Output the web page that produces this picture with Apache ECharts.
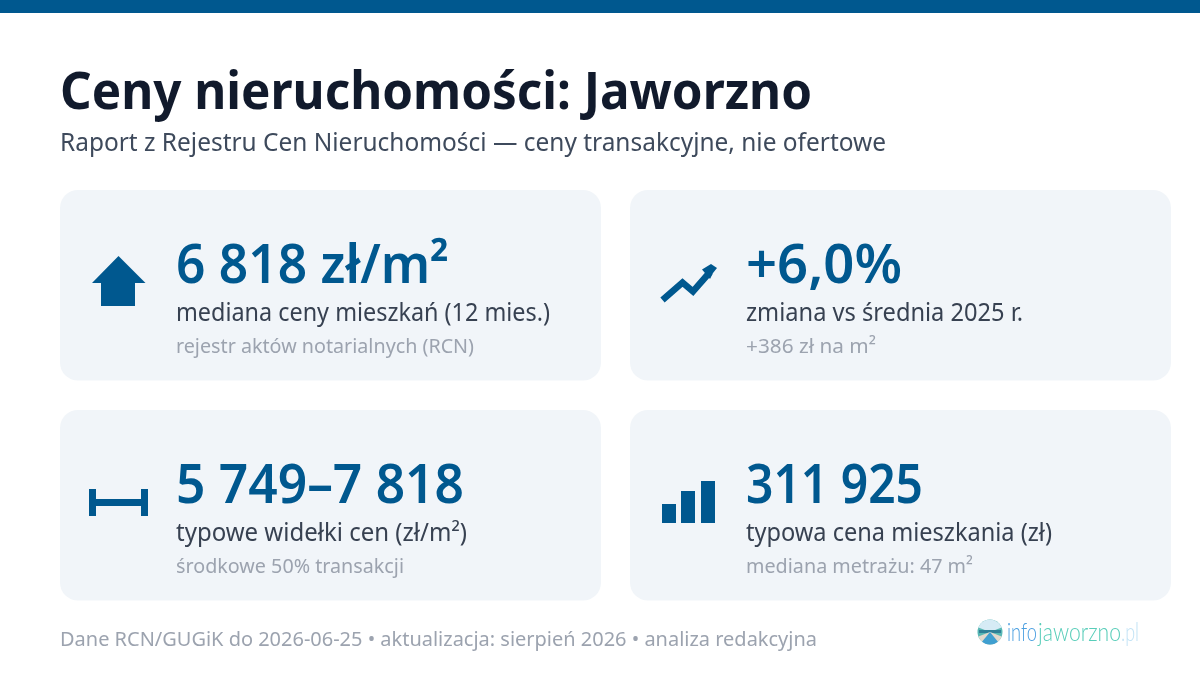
<html>
  <head>
    <meta http-equiv="Content-Type" content="text/html; charset=utf-8" />
    <script src="https://cdn.jsdelivr.net/npm/echarts@6/dist/echarts.min.js"></script>
    <style>html,body{margin:0;padding:0;background:#fff}</style>
  </head>
  <body>
    <div id="main" style="width:1200px;height:675px;"></div>
    <script type="text/javascript">
var titleText = 'Ceny nieruchomości: Jaworzno';
var subtitleText = 'Raport z Rejestru Cen Nieruchomości — ceny transakcyjne, nie ofertowe';
var footerText = 'Dane RCN/GUGiK do 2026-06-25 • aktualizacja: sierpień 2026 • analiza redakcyjna';
var cardValues = ['6 818 zł/m²', '+6,0%', '5 749–7 818', '311 925'];
var cardLabels = ['mediana ceny mieszkań (12 mies.)', 'zmiana vs średnia 2025 r.', 'typowe widełki cen (zł/m²)', 'typowa cena mieszkania (zł)'];
var cardNotes = ['rejestr aktów notarialnych (RCN)', '+386 zł na m²', 'środkowe 50% transakcji', 'mediana metrażu: 47 m²'];
var logoParts = ['info', 'jaworzno', '.pl'];

// szerokosci tekstow w px
var valueWidths = [273, 156, 288, 177];
var labelWidths = [374, 277, 291, 306];
var noteWidths = [298, 130, 228, 227];

var BLUE = '#00588f';
var FONT = '"Noto Sans", sans-serif';
var myChart = echarts.init(document.getElementById('main'));
var measure = document.createElement('canvas').getContext('2d');

// y to linia bazowa, width to docelowa szerokosc tekstu
function txt(x, y, s, size, color, weight, width, family) {
  var w = weight || 400, f = family || FONT;
  measure.font = w + ' ' + size + 'px ' + f;
  var sx = width ? width / measure.measureText(s).width : 1;
  return {type: 'text', x: x, y: y - size * 0.8, scaleX: sx, silent: true, style: {
    text: s, fontFamily: f, fontSize: size, fontWeight: w, fill: color
  }};
}
function rect(x, y, w, h, fill, r) {
  return {type: 'rect', shape: {x: x, y: y, width: w, height: h, r: r || 0}, style: {fill: fill}};
}
function poly(points) {
  return {type: 'polygon', shape: {points: points}, style: {fill: BLUE}};
}

var els = [rect(0, 0, 1200, 13, BLUE)];
els.push(txt(60, 110, titleText, 52, '#111a2c', 700, 752));
els.push(txt(60, 151, subtitleText, 25, '#3e4a5c', 400, 826));

var cardX = [60, 630, 60, 630], cardY = [190, 190, 410, 410];
var textX = [176, 746, 176, 746];
for (var i = 0; i < 4; i++) {
  els.push(rect(cardX[i], cardY[i], 541, 190.5, '#f1f5f9', 18));
  els.push(txt(textX[i], cardY[i] + 94, cardValues[i], 54, BLUE, 600, valueWidths[i]));
  els.push(txt(textX[i], cardY[i] + 131, cardLabels[i], 25, '#374151', 400, labelWidths[i]));
  els.push(txt(textX[i], cardY[i] + 163, cardNotes[i], 20, '#9ca3af', 400, noteWidths[i]));
}

// ikony
els.push(poly([[118.5, 256], [145.5, 283], [135, 283], [135, 306], [101, 306], [101, 283], [92, 283]]));
els.push({type: 'polyline', shape: {points: [[662.5, 300], [682.5, 282.5], [693, 291.5], [710, 272]]},
  style: {stroke: BLUE, fill: null, lineWidth: 6.5, lineJoin: 'miter'}});
els.push(poly([[717, 268], [711, 264], [702, 269.5], [710, 279], [713, 273]]));
els.push(rect(89, 489, 7, 27, BLUE), rect(141, 489, 7, 27, BLUE), rect(96, 499, 45, 7, BLUE));
els.push(rect(662, 504, 14, 19, BLUE), rect(681, 491, 14, 32, BLUE), rect(701, 481, 14, 42, BLUE));

els.push(txt(60, 646, footerText, 20, '#9ca3af', 400, 757));

// logo
els.push({type: 'circle', shape: {cx: 990, cy: 632, r: 12.5}, style: {fill: '#58b7b4'}});
els.push({type: 'sector', shape: {cx: 990, cy: 632, r: 12.5, startAngle: Math.PI * 1.12, endAngle: Math.PI * 1.88}, style: {fill: '#d6ebf5'}});
els.push({type: 'rect', shape: {x: 979, y: 630, width: 22, height: 3}, style: {fill: '#2f7f96'}});
els.push({type: 'sector', shape: {cx: 990, cy: 632, r: 12.5, startAngle: Math.PI * 0.12, endAngle: Math.PI * 0.88}, style: {fill: '#e3d9cc'}});
els.push({type: 'sector', shape: {cx: 990, cy: 632, r: 12.5, startAngle: Math.PI * 0.28, endAngle: Math.PI * 0.72}, style: {fill: '#3f9fd0'}});
els.push(txt(1007, 640, logoParts[0], 25, '#4a9fe0', 300, 30, 'Lato'));
els.push(txt(1038, 640, logoParts[1], 25, '#58cdb9', 300, 83, 'Lato'));
els.push(txt(1121, 640, logoParts[2], 25, '#c2e3f5', 300, 18, 'Lato'));

var option = {animation: false, backgroundColor: '#fff', graphic: {elements: els}};
myChart.setOption(option);
    </script>
  </body>
</html>
